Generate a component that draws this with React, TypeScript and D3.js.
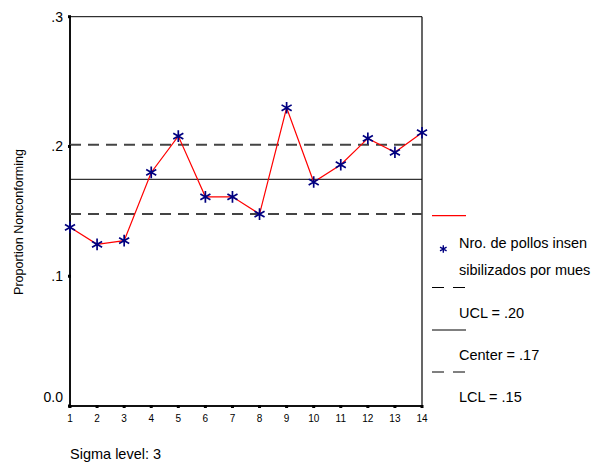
import React from "react";
import * as d3 from "d3";

const samples = [1, 2, 3, 4, 5, 6, 7, 8, 9, 10, 11, 12, 13, 14];
const proportions = [0.1377, 0.1246, 0.1274, 0.18, 0.208, 0.1612, 0.1612, 0.1479, 0.2298, 0.1726, 0.1859, 0.2062, 0.1955, 0.2106];
const ucl = 0.2013;
const center = 0.1747;
const lcl = 0.1479;
const yTicks = [0, 0.1, 0.2, 0.3];
const yTickLabels = ["0.0", ".1", ".2", ".3"];
const legendSeries = ["Nro. de pollos insen", "sibilizados por mues"];
const legendLabels = ["UCL = .20", "Center = .17", "LCL = .15"];
const footnote = "Sigma level: 3";
const yTitle = "Proportion Nonconforming";

const W = 593, H = 462;
const left = 70, right = 422, top = 16.7, bottom = 406;
const font = "'Liberation Sans', Arial, sans-serif";

export default function App() {
  const x = d3.scaleLinear().domain([1, 14]).range([left, right]);
  const y = d3.scaleLinear().domain([0, 0.3]).range([bottom, top]);
  const line = d3.line<number>().x((_, i) => x(samples[i])).y((d) => y(d));
  const star = d3.symbol(d3.symbolAsterisk, 95)()!;
  const starSmall = d3.symbol(d3.symbolAsterisk, 40)()!;
  const navy = "#000080";
  const dashCol = "#444";

  return (
    <svg width={W} height={H} style={{ position: "absolute", left: 0, top: 0, background: "#fff" }} fontFamily={font}>
      <rect width={W} height={H} fill="#fff" />
      {/* frame */}
      <line x1={left} x2={right} y1={top} y2={top} stroke="#000" strokeWidth={1} />
      <line x1={right} x2={right} y1={top} y2={bottom} stroke="#000" strokeWidth={1.2} />
      <line x1={left} x2={left} y1={top} y2={bottom} stroke="#111" strokeWidth={2} />
      <line x1={left} x2={right} y1={bottom} y2={bottom} stroke="#111" strokeWidth={2} />
      {/* control lines */}
      <line x1={left} x2={right} y1={y(ucl)} y2={y(ucl)} stroke={dashCol} strokeWidth={2} strokeDasharray="11,7" />
      <line x1={left} x2={right} y1={y(center)} y2={y(center)} stroke="#000" strokeWidth={1} />
      <line x1={left} x2={right} y1={y(lcl)} y2={y(lcl)} stroke={dashCol} strokeWidth={2} strokeDasharray="11,7" />
      {/* y ticks */}
      {yTicks.map((t, i) => (
        <g key={i}>
          <rect x={left - 2} y={y(t) - 1.5} width={3} height={3} fill="#000" />
          <text x={63} y={Math.min(y(t), bottom - 8.5)} dy="0.35em" textAnchor="end" fontSize={14}>
            {yTickLabels[i]}
          </text>
        </g>
      ))}
      {/* x ticks */}
      {samples.map((s) => (
        <g key={s}>
          <rect x={x(s) - 1.5} y={bottom - 1} width={3} height={3} fill="#000" />
          <text x={x(s)} y={418} dy="0.35em" textAnchor="middle" fontSize={10}>
            {s}
          </text>
        </g>
      ))}
      {/* data */}
      <path d={line(proportions)!} fill="none" stroke="#ff0000" strokeWidth={1.2} />
      {proportions.map((p, i) => (
        <path key={i} d={star} transform={`translate(${x(samples[i])},${y(p)})`} fill="none" stroke={navy} strokeWidth={1.7} />
      ))}
      {/* y title */}
      <text transform={`translate(23,222) rotate(-90)`} textAnchor="middle" fontSize={12.5}>
        {yTitle}
      </text>
      {/* footnote */}
      <text x={70} y={459} fontSize={14.5}>{footnote}</text>
      {/* legend */}
      <line x1={432} x2={466} y1={215.7} y2={215.7} stroke="#ff0000" strokeWidth={1.2} />
      <path d={starSmall} transform="translate(443.3,249)" fill="none" stroke={navy} strokeWidth={1.4} />
      <text x={459} y={248} fontSize={14.5}>{legendSeries[0]}</text>
      <text x={459} y={275} fontSize={14.5}>{legendSeries[1]}</text>
      <line x1={432} x2={466} y1={287.5} y2={287.5} stroke="#000" strokeWidth={1} strokeDasharray="12,9" />
      <text x={459} y={318} fontSize={14.5}>{legendLabels[0]}</text>
      <line x1={432} x2={466} y1={330} y2={330} stroke="#000" strokeWidth={1} />
      <text x={459} y={360} fontSize={14.5}>{legendLabels[1]}</text>
      <line x1={432} x2={466} y1={372} y2={372} stroke="#000" strokeWidth={1} strokeDasharray="12,9" />
      <text x={459} y={402} fontSize={14.5}>{legendLabels[2]}</text>
    </svg>
  );
}
